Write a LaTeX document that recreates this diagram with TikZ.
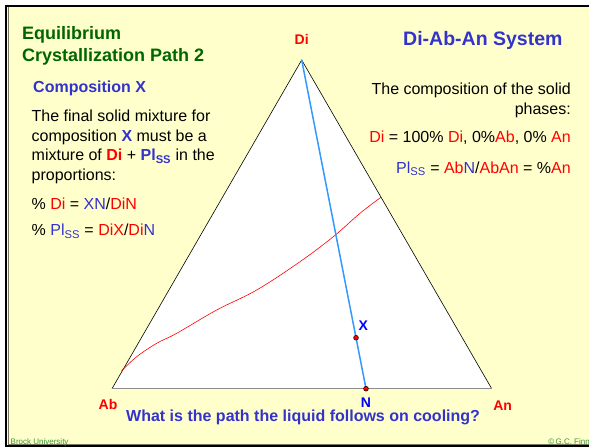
\documentclass[tikz,border=0pt]{standalone}
\usepackage{fontspec}
\setmainfont{Liberation Sans}
\usetikzlibrary{calc,positioning}
\definecolor{paper}{RGB}{255,255,204}
\definecolor{ttlgreen}{RGB}{0,102,0}
\definecolor{ftgreen}{RGB}{60,150,60}
\definecolor{txtblue}{RGB}{51,51,204}
\definecolor{ptblue}{RGB}{0,0,255}
\definecolor{tieblue}{RGB}{51,153,255}
\definecolor{frameshadow}{RGB}{120,120,96}
\newcommand{\rd}[1]{\textcolor{red}{#1}}
\newcommand{\bl}[1]{\textcolor{txtblue}{#1}}
\newcommand{\plss}{Pl\textsubscript{SS}}
\tikzset{
txt/.style={inner sep=0pt,anchor=base west,font=\fontsize{16}{19.7}\selectfont},
rtxt/.style={txt,anchor=base east},
ttl/.style={txt,text=ttlgreen,font=\fontsize{18}{22}\selectfont\bfseries},
head/.style={txt,text=txtblue,font=\fontsize{16}{19.7}\selectfont\bfseries},
syshead/.style={txt,text=txtblue,font=\fontsize{19.5}{23}\selectfont\bfseries},
vlbl/.style={inner sep=0pt,anchor=base,text=red,font=\fontsize{14}{16}\selectfont\bfseries},
plbl/.style={vlbl,text=ptblue},
foot/.style={inner sep=0pt,anchor=base west,text=ftgreen,font=\fontsize{8}{9}\selectfont},
triside/.style={black,line width=0.6pt},
abanline/.style={black!45,line width=1.3pt},
tieline/.style={tieblue,line width=1.5pt},
liq/.style={red,line width=0.6pt},
dot/.style={fill=red,draw=black,line width=0.5pt}
}
\begin{document}
\begin{tikzpicture}[x=1pt,y=-1pt]
\useasboundingbox (0,0) rectangle (589,447);
% slide frame
\fill[white] (0,0) rectangle (589,447);
\fill[paper] (6,6) rectangle (592,445.6);
\draw[frameshadow,line width=1pt] (8.5,7) -- (8.5,444.2) -- (592,444.2);
\draw[black,line width=2pt] (592,6) -- (6,6) -- (6,445.6) -- (592,445.6);

% triangle Di-Ab-An
\coordinate (Di) at (301.7,60);
\coordinate (Ab) at (112,388.7);
\coordinate (An) at (491.7,388.7);
\coordinate (N) at (366,388.7);
\coordinate (X) at ($(Di)!0.845!(N)$);
\fill[white] (Ab) -- (Di) -- (An) -- cycle;
\draw[triside] (Ab) -- (Di) -- (An);
\draw[abanline] (Ab) -- (An);

% cotectic and tie line
\draw[liq] plot[smooth,tension=0.6] coordinates {(121.7,370.7) (136.7,356.7) (156.7,343.3) (176.7,333.3) (216.7,310) (256.7,290) (300,261.7) (333.3,236.7) (360,213.3) (381.3,197)};
\draw[tieline] (Di) -- (N);
\filldraw[dot] (X) circle (2.4);
\filldraw[dot] (N) circle (2.4);

\node[vlbl] (lDi) at (301.7,44.3) {Di};
\node[vlbl] (lAb) at (108,409) {Ab};
\node[vlbl] (lAn) at (502.7,410) {An};
\node[plbl] (lN) at (366,407.5) {N};
\node[plbl] (lX) at (363.3,330.7) {X};

% left column
\node[ttl] (ttl1) at (22,39.3) {Equilibrium};
\node[ttl] (ttl2) at (22,61.7) {Crystallization Path 2};
\node[head] (comp) at (33,92.3) {Composition X};
\node[txt] (p1) at (31.5,121.5) {The final solid mixture for};
\node[txt] (p2) at (31.5,141.2) {composition \textbf{\bl{X}} must be a};
\node[txt] (p3) at (31.5,160.9) {mixture of \textbf{\rd{Di}} + \textbf{\bl{\plss}} in the};
\node[txt] (p4) at (31.5,180.6) {proportions:};
\node[txt] (f1) at (31.5,209) {\% \rd{Di} = \bl{XN}/\rd{DiN}};
\node[txt] (f2) at (31.5,235.7) {\% \bl{\plss} = \rd{DiX}/\rd{Di}\bl{N}};

% right column
\node[syshead] (sys) at (403,45) {Di-Ab-An System};
\node[rtxt] (r1) at (571,94) {The composition of the solid};
\node[rtxt] (r2) at (571,114.3) {phases:};
\node[rtxt] (r3) at (571,142.7) {\rd{Di} = 100\% \rd{Di}, 0\%\rd{Ab}, 0\% \rd{An}};
\node[rtxt] (r4) at (571,173.3) {\bl{\plss} = \rd{Ab}\bl{N}/\rd{AbAn} = \%\rd{An}};

\node[head] (ask) at (126,421.7) {What is the path the liquid follows on cooling?};

\node[foot] (brock) at (10.5,444) {Brock University};
\node[foot,anchor=base east] (finn) at (590,444.3) {\textcopyright\,G.C. Finn};
\end{tikzpicture}
\end{document}
